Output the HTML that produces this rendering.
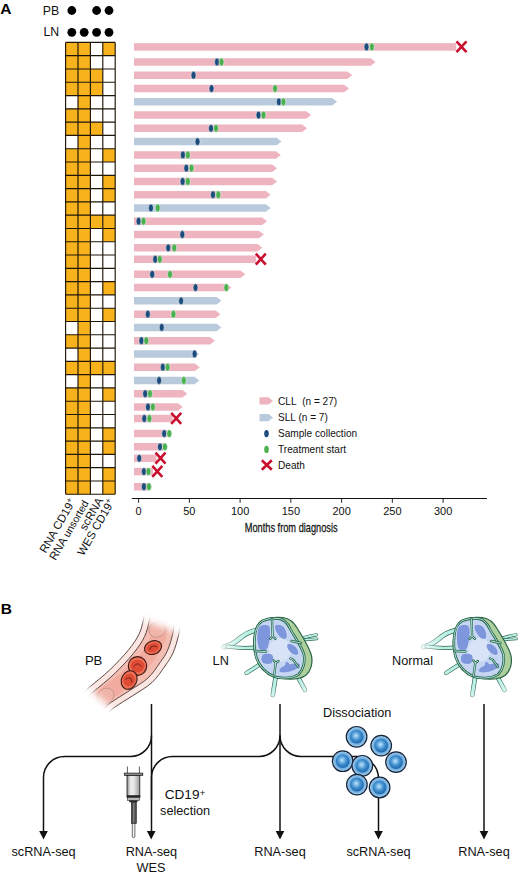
<!DOCTYPE html><html><head><meta charset="utf-8"><style>html,body{margin:0;padding:0;background:#fff;}svg{display:block;}text{font-family:"Liberation Sans",sans-serif;}</style></head><body>
<svg width="520" height="876" viewBox="0 0 520 876">
<defs>
<radialGradient id="cellg" cx="0.45" cy="0.42" r="0.6"><stop offset="0" stop-color="#bfe4fb"/><stop offset="0.55" stop-color="#3f8fd0"/><stop offset="1" stop-color="#1d63a8"/></radialGradient>
<radialGradient id="cello" cx="0.5" cy="0.5" r="0.5"><stop offset="0.6" stop-color="#5da2d8"/><stop offset="1" stop-color="#a7d0f0"/></radialGradient>
<linearGradient id="barrel" x1="0" x2="1" y1="0" y2="0"><stop offset="0" stop-color="#8e8e8e"/><stop offset="0.3" stop-color="#efefef"/><stop offset="0.55" stop-color="#e4e4e4"/><stop offset="1" stop-color="#9a9a9a"/></linearGradient>
<linearGradient id="vfade" gradientUnits="userSpaceOnUse" x1="90" y1="718" x2="168" y2="606"><stop offset="0" stop-color="#fff" stop-opacity="0"/><stop offset="0.17" stop-color="#fff" stop-opacity="1"/><stop offset="0.86" stop-color="#fff" stop-opacity="1"/><stop offset="0.98" stop-color="#fff" stop-opacity="0"/></linearGradient>
<filter id="vblur" x="-0.3" y="-0.3" width="1.6" height="1.6"><feGaussianBlur stdDeviation="3.5"/></filter><mask id="vmask" maskUnits="userSpaceOnUse" x="40" y="570" width="200" height="180"><polygon points="124.1,613.7 197.8,639.8 127,722.5 74.2,674.3" fill="#fff" filter="url(#vblur)"/></mask>
<radialGradient id="vgr" gradientUnits="userSpaceOnUse" cx="280" cy="650" r="58"><stop offset="0.62" stop-color="#fff"/><stop offset="1" stop-color="#3a3a3a"/></radialGradient><mask id="lnvm" maskUnits="userSpaceOnUse" x="200" y="590" width="140" height="120"><rect x="200" y="590" width="140" height="120" fill="url(#vgr)"/></mask>
</defs>
<text x="0.3" y="13.8" font-size="15.5" font-weight="bold" fill="#000">A</text>
<text x="42.8" y="14.6" font-size="12.3" fill="#111">PB</text>
<text x="43.5" y="36.2" font-size="12.3" fill="#111">LN</text>
<circle cx="71.80" cy="10.5" r="4.4" fill="#000"/>
<circle cx="96.60" cy="10.5" r="4.4" fill="#000"/>
<circle cx="109.00" cy="10.5" r="4.4" fill="#000"/>
<circle cx="71.80" cy="32.3" r="4.4" fill="#000"/>
<circle cx="84.20" cy="32.3" r="4.4" fill="#000"/>
<circle cx="96.60" cy="32.3" r="4.4" fill="#000"/>
<circle cx="109.00" cy="32.3" r="4.4" fill="#000"/>
<rect x="65.60" y="42.40" width="12.40" height="13.29" fill="#f8b21c"/>
<rect x="78.00" y="42.40" width="12.40" height="13.29" fill="#f8b21c"/>
<rect x="90.40" y="42.40" width="12.40" height="13.29" fill="#ffffff"/>
<rect x="102.80" y="42.40" width="12.40" height="13.29" fill="#f8b21c"/>
<rect x="65.60" y="55.69" width="12.40" height="13.29" fill="#f8b21c"/>
<rect x="78.00" y="55.69" width="12.40" height="13.29" fill="#f8b21c"/>
<rect x="90.40" y="55.69" width="12.40" height="13.29" fill="#ffffff"/>
<rect x="102.80" y="55.69" width="12.40" height="13.29" fill="#ffffff"/>
<rect x="65.60" y="68.98" width="12.40" height="13.29" fill="#f8b21c"/>
<rect x="78.00" y="68.98" width="12.40" height="13.29" fill="#f8b21c"/>
<rect x="90.40" y="68.98" width="12.40" height="13.29" fill="#f8b21c"/>
<rect x="102.80" y="68.98" width="12.40" height="13.29" fill="#ffffff"/>
<rect x="65.60" y="82.27" width="12.40" height="13.29" fill="#f8b21c"/>
<rect x="78.00" y="82.27" width="12.40" height="13.29" fill="#f8b21c"/>
<rect x="90.40" y="82.27" width="12.40" height="13.29" fill="#f8b21c"/>
<rect x="102.80" y="82.27" width="12.40" height="13.29" fill="#ffffff"/>
<rect x="65.60" y="95.56" width="12.40" height="13.29" fill="#ffffff"/>
<rect x="78.00" y="95.56" width="12.40" height="13.29" fill="#f8b21c"/>
<rect x="90.40" y="95.56" width="12.40" height="13.29" fill="#ffffff"/>
<rect x="102.80" y="95.56" width="12.40" height="13.29" fill="#ffffff"/>
<rect x="65.60" y="108.85" width="12.40" height="13.29" fill="#f8b21c"/>
<rect x="78.00" y="108.85" width="12.40" height="13.29" fill="#f8b21c"/>
<rect x="90.40" y="108.85" width="12.40" height="13.29" fill="#ffffff"/>
<rect x="102.80" y="108.85" width="12.40" height="13.29" fill="#ffffff"/>
<rect x="65.60" y="122.14" width="12.40" height="13.29" fill="#f8b21c"/>
<rect x="78.00" y="122.14" width="12.40" height="13.29" fill="#f8b21c"/>
<rect x="90.40" y="122.14" width="12.40" height="13.29" fill="#f8b21c"/>
<rect x="102.80" y="122.14" width="12.40" height="13.29" fill="#ffffff"/>
<rect x="65.60" y="135.43" width="12.40" height="13.29" fill="#ffffff"/>
<rect x="78.00" y="135.43" width="12.40" height="13.29" fill="#f8b21c"/>
<rect x="90.40" y="135.43" width="12.40" height="13.29" fill="#ffffff"/>
<rect x="102.80" y="135.43" width="12.40" height="13.29" fill="#ffffff"/>
<rect x="65.60" y="148.72" width="12.40" height="13.29" fill="#f8b21c"/>
<rect x="78.00" y="148.72" width="12.40" height="13.29" fill="#f8b21c"/>
<rect x="90.40" y="148.72" width="12.40" height="13.29" fill="#ffffff"/>
<rect x="102.80" y="148.72" width="12.40" height="13.29" fill="#f8b21c"/>
<rect x="65.60" y="162.01" width="12.40" height="13.29" fill="#f8b21c"/>
<rect x="78.00" y="162.01" width="12.40" height="13.29" fill="#f8b21c"/>
<rect x="90.40" y="162.01" width="12.40" height="13.29" fill="#ffffff"/>
<rect x="102.80" y="162.01" width="12.40" height="13.29" fill="#ffffff"/>
<rect x="65.60" y="175.30" width="12.40" height="13.29" fill="#f8b21c"/>
<rect x="78.00" y="175.30" width="12.40" height="13.29" fill="#f8b21c"/>
<rect x="90.40" y="175.30" width="12.40" height="13.29" fill="#ffffff"/>
<rect x="102.80" y="175.30" width="12.40" height="13.29" fill="#f8b21c"/>
<rect x="65.60" y="188.59" width="12.40" height="13.29" fill="#f8b21c"/>
<rect x="78.00" y="188.59" width="12.40" height="13.29" fill="#f8b21c"/>
<rect x="90.40" y="188.59" width="12.40" height="13.29" fill="#ffffff"/>
<rect x="102.80" y="188.59" width="12.40" height="13.29" fill="#f8b21c"/>
<rect x="65.60" y="201.88" width="12.40" height="13.29" fill="#f8b21c"/>
<rect x="78.00" y="201.88" width="12.40" height="13.29" fill="#f8b21c"/>
<rect x="90.40" y="201.88" width="12.40" height="13.29" fill="#ffffff"/>
<rect x="102.80" y="201.88" width="12.40" height="13.29" fill="#ffffff"/>
<rect x="65.60" y="215.17" width="12.40" height="13.29" fill="#f8b21c"/>
<rect x="78.00" y="215.17" width="12.40" height="13.29" fill="#f8b21c"/>
<rect x="90.40" y="215.17" width="12.40" height="13.29" fill="#f8b21c"/>
<rect x="102.80" y="215.17" width="12.40" height="13.29" fill="#f8b21c"/>
<rect x="65.60" y="228.46" width="12.40" height="13.29" fill="#f8b21c"/>
<rect x="78.00" y="228.46" width="12.40" height="13.29" fill="#f8b21c"/>
<rect x="90.40" y="228.46" width="12.40" height="13.29" fill="#ffffff"/>
<rect x="102.80" y="228.46" width="12.40" height="13.29" fill="#f8b21c"/>
<rect x="65.60" y="241.75" width="12.40" height="13.29" fill="#f8b21c"/>
<rect x="78.00" y="241.75" width="12.40" height="13.29" fill="#f8b21c"/>
<rect x="90.40" y="241.75" width="12.40" height="13.29" fill="#ffffff"/>
<rect x="102.80" y="241.75" width="12.40" height="13.29" fill="#ffffff"/>
<rect x="65.60" y="255.04" width="12.40" height="13.29" fill="#f8b21c"/>
<rect x="78.00" y="255.04" width="12.40" height="13.29" fill="#f8b21c"/>
<rect x="90.40" y="255.04" width="12.40" height="13.29" fill="#ffffff"/>
<rect x="102.80" y="255.04" width="12.40" height="13.29" fill="#ffffff"/>
<rect x="65.60" y="268.33" width="12.40" height="13.29" fill="#f8b21c"/>
<rect x="78.00" y="268.33" width="12.40" height="13.29" fill="#f8b21c"/>
<rect x="90.40" y="268.33" width="12.40" height="13.29" fill="#ffffff"/>
<rect x="102.80" y="268.33" width="12.40" height="13.29" fill="#ffffff"/>
<rect x="65.60" y="281.62" width="12.40" height="13.29" fill="#f8b21c"/>
<rect x="78.00" y="281.62" width="12.40" height="13.29" fill="#f8b21c"/>
<rect x="90.40" y="281.62" width="12.40" height="13.29" fill="#ffffff"/>
<rect x="102.80" y="281.62" width="12.40" height="13.29" fill="#f8b21c"/>
<rect x="65.60" y="294.91" width="12.40" height="13.29" fill="#f8b21c"/>
<rect x="78.00" y="294.91" width="12.40" height="13.29" fill="#f8b21c"/>
<rect x="90.40" y="294.91" width="12.40" height="13.29" fill="#ffffff"/>
<rect x="102.80" y="294.91" width="12.40" height="13.29" fill="#ffffff"/>
<rect x="65.60" y="308.20" width="12.40" height="13.29" fill="#f8b21c"/>
<rect x="78.00" y="308.20" width="12.40" height="13.29" fill="#f8b21c"/>
<rect x="90.40" y="308.20" width="12.40" height="13.29" fill="#ffffff"/>
<rect x="102.80" y="308.20" width="12.40" height="13.29" fill="#f8b21c"/>
<rect x="65.60" y="321.49" width="12.40" height="13.29" fill="#ffffff"/>
<rect x="78.00" y="321.49" width="12.40" height="13.29" fill="#f8b21c"/>
<rect x="90.40" y="321.49" width="12.40" height="13.29" fill="#ffffff"/>
<rect x="102.80" y="321.49" width="12.40" height="13.29" fill="#ffffff"/>
<rect x="65.60" y="334.78" width="12.40" height="13.29" fill="#f8b21c"/>
<rect x="78.00" y="334.78" width="12.40" height="13.29" fill="#f8b21c"/>
<rect x="90.40" y="334.78" width="12.40" height="13.29" fill="#ffffff"/>
<rect x="102.80" y="334.78" width="12.40" height="13.29" fill="#ffffff"/>
<rect x="65.60" y="348.07" width="12.40" height="13.29" fill="#ffffff"/>
<rect x="78.00" y="348.07" width="12.40" height="13.29" fill="#f8b21c"/>
<rect x="90.40" y="348.07" width="12.40" height="13.29" fill="#ffffff"/>
<rect x="102.80" y="348.07" width="12.40" height="13.29" fill="#ffffff"/>
<rect x="65.60" y="361.36" width="12.40" height="13.29" fill="#f8b21c"/>
<rect x="78.00" y="361.36" width="12.40" height="13.29" fill="#f8b21c"/>
<rect x="90.40" y="361.36" width="12.40" height="13.29" fill="#f8b21c"/>
<rect x="102.80" y="361.36" width="12.40" height="13.29" fill="#f8b21c"/>
<rect x="65.60" y="374.65" width="12.40" height="13.29" fill="#ffffff"/>
<rect x="78.00" y="374.65" width="12.40" height="13.29" fill="#f8b21c"/>
<rect x="90.40" y="374.65" width="12.40" height="13.29" fill="#ffffff"/>
<rect x="102.80" y="374.65" width="12.40" height="13.29" fill="#ffffff"/>
<rect x="65.60" y="387.94" width="12.40" height="13.29" fill="#f8b21c"/>
<rect x="78.00" y="387.94" width="12.40" height="13.29" fill="#f8b21c"/>
<rect x="90.40" y="387.94" width="12.40" height="13.29" fill="#ffffff"/>
<rect x="102.80" y="387.94" width="12.40" height="13.29" fill="#f8b21c"/>
<rect x="65.60" y="401.23" width="12.40" height="13.29" fill="#f8b21c"/>
<rect x="78.00" y="401.23" width="12.40" height="13.29" fill="#f8b21c"/>
<rect x="90.40" y="401.23" width="12.40" height="13.29" fill="#ffffff"/>
<rect x="102.80" y="401.23" width="12.40" height="13.29" fill="#ffffff"/>
<rect x="65.60" y="414.52" width="12.40" height="13.29" fill="#f8b21c"/>
<rect x="78.00" y="414.52" width="12.40" height="13.29" fill="#f8b21c"/>
<rect x="90.40" y="414.52" width="12.40" height="13.29" fill="#ffffff"/>
<rect x="102.80" y="414.52" width="12.40" height="13.29" fill="#ffffff"/>
<rect x="65.60" y="427.81" width="12.40" height="13.29" fill="#f8b21c"/>
<rect x="78.00" y="427.81" width="12.40" height="13.29" fill="#f8b21c"/>
<rect x="90.40" y="427.81" width="12.40" height="13.29" fill="#ffffff"/>
<rect x="102.80" y="427.81" width="12.40" height="13.29" fill="#f8b21c"/>
<rect x="65.60" y="441.10" width="12.40" height="13.29" fill="#f8b21c"/>
<rect x="78.00" y="441.10" width="12.40" height="13.29" fill="#f8b21c"/>
<rect x="90.40" y="441.10" width="12.40" height="13.29" fill="#ffffff"/>
<rect x="102.80" y="441.10" width="12.40" height="13.29" fill="#f8b21c"/>
<rect x="65.60" y="454.39" width="12.40" height="13.29" fill="#f8b21c"/>
<rect x="78.00" y="454.39" width="12.40" height="13.29" fill="#f8b21c"/>
<rect x="90.40" y="454.39" width="12.40" height="13.29" fill="#ffffff"/>
<rect x="102.80" y="454.39" width="12.40" height="13.29" fill="#ffffff"/>
<rect x="65.60" y="467.68" width="12.40" height="13.29" fill="#f8b21c"/>
<rect x="78.00" y="467.68" width="12.40" height="13.29" fill="#f8b21c"/>
<rect x="90.40" y="467.68" width="12.40" height="13.29" fill="#ffffff"/>
<rect x="102.80" y="467.68" width="12.40" height="13.29" fill="#f8b21c"/>
<rect x="65.60" y="480.97" width="12.40" height="13.29" fill="#f8b21c"/>
<rect x="78.00" y="480.97" width="12.40" height="13.29" fill="#f8b21c"/>
<rect x="90.40" y="480.97" width="12.40" height="13.29" fill="#ffffff"/>
<rect x="102.80" y="480.97" width="12.40" height="13.29" fill="#f8b21c"/>
<path d="M65.60 42.40V494.26M78.00 42.40V494.26M90.40 42.40V494.26M102.80 42.40V494.26M115.20 42.40V494.26M65.60 42.40H115.20M65.60 55.69H115.20M65.60 68.98H115.20M65.60 82.27H115.20M65.60 95.56H115.20M65.60 108.85H115.20M65.60 122.14H115.20M65.60 135.43H115.20M65.60 148.72H115.20M65.60 162.01H115.20M65.60 175.30H115.20M65.60 188.59H115.20M65.60 201.88H115.20M65.60 215.17H115.20M65.60 228.46H115.20M65.60 241.75H115.20M65.60 255.04H115.20M65.60 268.33H115.20M65.60 281.62H115.20M65.60 294.91H115.20M65.60 308.20H115.20M65.60 321.49H115.20M65.60 334.78H115.20M65.60 348.07H115.20M65.60 361.36H115.20M65.60 374.65H115.20M65.60 387.94H115.20M65.60 401.23H115.20M65.60 414.52H115.20M65.60 427.81H115.20M65.60 441.10H115.20M65.60 454.39H115.20M65.60 467.68H115.20M65.60 480.97H115.20M65.60 494.26H115.20" stroke="#1e1608" stroke-width="1.15" fill="none"/>
<text transform="translate(76,501.5) rotate(-60)" text-anchor="end" font-size="11.4" fill="#111">RNA CD19<tspan font-size="8" dy="-4">+</tspan></text>
<text transform="translate(89,503) rotate(-60)" text-anchor="end" font-size="11.4" fill="#111">RNA <tspan font-size="10.4">unsorted</tspan></text>
<text transform="translate(103.5,500.5) rotate(-60)" text-anchor="end" font-size="11.4" fill="#111">scRNA</text>
<text transform="translate(115,502) rotate(-60)" text-anchor="end" font-size="11.4" fill="#111">WES CD19<tspan font-size="8" dy="-4">+</tspan></text>
<rect x="134.0" y="43.18" width="322.20" height="7.5" fill="#eeb4c0"/>
<ellipse cx="366.5" cy="46.93" rx="2.5" ry="3.9" fill="#1c4b7c" stroke="#fff" stroke-width="0.5"/>
<ellipse cx="371.9" cy="46.93" rx="2.5" ry="3.9" fill="#4cb050" stroke="#fff" stroke-width="0.5"/>
<path d="M456.50 41.33L466.50 52.23M466.50 41.33L456.50 52.23" stroke="#c8102e" stroke-width="2.6" fill="none"/>
<path d="M134.0 58.25H370.70L375.50 62.00L370.70 65.75H134.0Z" fill="#eeb4c0"/>
<ellipse cx="217" cy="62.00" rx="2.5" ry="3.9" fill="#1c4b7c" stroke="#fff" stroke-width="0.5"/>
<ellipse cx="221.5" cy="62.00" rx="2.5" ry="3.9" fill="#4cb050" stroke="#fff" stroke-width="0.5"/>
<path d="M134.0 71.52H347.40L352.20 75.27L347.40 79.02H134.0Z" fill="#eeb4c0"/>
<ellipse cx="193.5" cy="75.27" rx="2.5" ry="3.9" fill="#1c4b7c" stroke="#fff" stroke-width="0.5"/>
<path d="M134.0 84.79H344.20L349.00 88.54L344.20 92.29H134.0Z" fill="#eeb4c0"/>
<ellipse cx="211.5" cy="88.54" rx="2.5" ry="3.9" fill="#1c4b7c" stroke="#fff" stroke-width="0.5"/>
<ellipse cx="275.1" cy="88.54" rx="2.5" ry="3.9" fill="#4cb050" stroke="#fff" stroke-width="0.5"/>
<path d="M134.0 98.06H332.20L337.00 101.81L332.20 105.56H134.0Z" fill="#b9cadc"/>
<ellipse cx="278.9" cy="101.81" rx="2.5" ry="3.9" fill="#1c4b7c" stroke="#fff" stroke-width="0.5"/>
<ellipse cx="283.4" cy="101.81" rx="2.5" ry="3.9" fill="#4cb050" stroke="#fff" stroke-width="0.5"/>
<path d="M134.0 111.33H306.30L311.10 115.08L306.30 118.83H134.0Z" fill="#eeb4c0"/>
<ellipse cx="258.5" cy="115.08" rx="2.5" ry="3.9" fill="#1c4b7c" stroke="#fff" stroke-width="0.5"/>
<ellipse cx="263.5" cy="115.08" rx="2.5" ry="3.9" fill="#4cb050" stroke="#fff" stroke-width="0.5"/>
<path d="M134.0 124.60H302.20L307.00 128.35L302.20 132.10H134.0Z" fill="#eeb4c0"/>
<ellipse cx="211" cy="128.35" rx="2.5" ry="3.9" fill="#1c4b7c" stroke="#fff" stroke-width="0.5"/>
<ellipse cx="216" cy="128.35" rx="2.5" ry="3.9" fill="#4cb050" stroke="#fff" stroke-width="0.5"/>
<path d="M134.0 137.87H276.70L281.50 141.62L276.70 145.37H134.0Z" fill="#b9cadc"/>
<ellipse cx="197.5" cy="141.62" rx="2.5" ry="3.9" fill="#1c4b7c" stroke="#fff" stroke-width="0.5"/>
<path d="M134.0 151.14H276.00L280.80 154.89L276.00 158.64H134.0Z" fill="#eeb4c0"/>
<ellipse cx="182.9" cy="154.89" rx="2.5" ry="3.9" fill="#1c4b7c" stroke="#fff" stroke-width="0.5"/>
<ellipse cx="187.8" cy="154.89" rx="2.5" ry="3.9" fill="#4cb050" stroke="#fff" stroke-width="0.5"/>
<path d="M134.0 164.41H272.20L277.00 168.16L272.20 171.91H134.0Z" fill="#eeb4c0"/>
<ellipse cx="186.3" cy="168.16" rx="2.5" ry="3.9" fill="#1c4b7c" stroke="#fff" stroke-width="0.5"/>
<ellipse cx="191.5" cy="168.16" rx="2.5" ry="3.9" fill="#4cb050" stroke="#fff" stroke-width="0.5"/>
<path d="M134.0 177.68H272.20L277.00 181.43L272.20 185.18H134.0Z" fill="#eeb4c0"/>
<ellipse cx="182.6" cy="181.43" rx="2.5" ry="3.9" fill="#1c4b7c" stroke="#fff" stroke-width="0.5"/>
<ellipse cx="187.8" cy="181.43" rx="2.5" ry="3.9" fill="#4cb050" stroke="#fff" stroke-width="0.5"/>
<path d="M134.0 190.95H265.80L270.60 194.70L265.80 198.45H134.0Z" fill="#eeb4c0"/>
<ellipse cx="213" cy="194.70" rx="2.5" ry="3.9" fill="#1c4b7c" stroke="#fff" stroke-width="0.5"/>
<ellipse cx="218.3" cy="194.70" rx="2.5" ry="3.9" fill="#4cb050" stroke="#fff" stroke-width="0.5"/>
<path d="M134.0 204.22H265.80L270.60 207.97L265.80 211.72H134.0Z" fill="#b9cadc"/>
<ellipse cx="150.9" cy="207.97" rx="2.5" ry="3.9" fill="#1c4b7c" stroke="#fff" stroke-width="0.5"/>
<ellipse cx="157.7" cy="207.97" rx="2.5" ry="3.9" fill="#4cb050" stroke="#fff" stroke-width="0.5"/>
<path d="M134.0 217.49H262.20L267.00 221.24L262.20 224.99H134.0Z" fill="#eeb4c0"/>
<ellipse cx="138.6" cy="221.24" rx="2.5" ry="3.9" fill="#1c4b7c" stroke="#fff" stroke-width="0.5"/>
<ellipse cx="143.5" cy="221.24" rx="2.5" ry="3.9" fill="#4cb050" stroke="#fff" stroke-width="0.5"/>
<path d="M134.0 230.76H259.00L263.80 234.51L259.00 238.26H134.0Z" fill="#eeb4c0"/>
<ellipse cx="182.3" cy="234.51" rx="2.5" ry="3.9" fill="#1c4b7c" stroke="#fff" stroke-width="0.5"/>
<path d="M134.0 244.03H257.50L262.30 247.78L257.50 251.53H134.0Z" fill="#eeb4c0"/>
<ellipse cx="168.2" cy="247.78" rx="2.5" ry="3.9" fill="#1c4b7c" stroke="#fff" stroke-width="0.5"/>
<ellipse cx="174.3" cy="247.78" rx="2.5" ry="3.9" fill="#4cb050" stroke="#fff" stroke-width="0.5"/>
<rect x="134.0" y="255.50" width="122.20" height="7.5" fill="#eeb4c0"/>
<ellipse cx="155.2" cy="259.25" rx="2.5" ry="3.9" fill="#1c4b7c" stroke="#fff" stroke-width="0.5"/>
<ellipse cx="159.8" cy="259.25" rx="2.5" ry="3.9" fill="#4cb050" stroke="#fff" stroke-width="0.5"/>
<path d="M255.80 253.65L265.80 264.55M265.80 253.65L255.80 264.55" stroke="#c8102e" stroke-width="2.6" fill="none"/>
<path d="M134.0 270.57H240.40L245.20 274.32L240.40 278.07H134.0Z" fill="#eeb4c0"/>
<ellipse cx="152.2" cy="274.32" rx="2.5" ry="3.9" fill="#1c4b7c" stroke="#fff" stroke-width="0.5"/>
<ellipse cx="170" cy="274.32" rx="2.5" ry="3.9" fill="#4cb050" stroke="#fff" stroke-width="0.5"/>
<path d="M134.0 283.84H226.70L231.50 287.59L226.70 291.34H134.0Z" fill="#eeb4c0"/>
<ellipse cx="195.5" cy="287.59" rx="2.5" ry="3.9" fill="#1c4b7c" stroke="#fff" stroke-width="0.5"/>
<ellipse cx="226.3" cy="287.59" rx="2.5" ry="3.9" fill="#4cb050" stroke="#fff" stroke-width="0.5"/>
<path d="M134.0 297.11H216.60L221.40 300.86L216.60 304.61H134.0Z" fill="#b9cadc"/>
<ellipse cx="181.1" cy="300.86" rx="2.5" ry="3.9" fill="#1c4b7c" stroke="#fff" stroke-width="0.5"/>
<path d="M134.0 310.38H215.70L220.50 314.13L215.70 317.88H134.0Z" fill="#eeb4c0"/>
<ellipse cx="147.8" cy="314.13" rx="2.5" ry="3.9" fill="#1c4b7c" stroke="#fff" stroke-width="0.5"/>
<ellipse cx="173.4" cy="314.13" rx="2.5" ry="3.9" fill="#4cb050" stroke="#fff" stroke-width="0.5"/>
<path d="M134.0 323.65H216.60L221.40 327.40L216.60 331.15H134.0Z" fill="#b9cadc"/>
<ellipse cx="161.7" cy="327.40" rx="2.5" ry="3.9" fill="#1c4b7c" stroke="#fff" stroke-width="0.5"/>
<path d="M134.0 336.92H210.10L214.90 340.67L210.10 344.42H134.0Z" fill="#eeb4c0"/>
<ellipse cx="141.4" cy="340.67" rx="2.5" ry="3.9" fill="#1c4b7c" stroke="#fff" stroke-width="0.5"/>
<ellipse cx="146.3" cy="340.67" rx="2.5" ry="3.9" fill="#4cb050" stroke="#fff" stroke-width="0.5"/>
<path d="M134.0 350.19H194.40L199.20 353.94L194.40 357.69H134.0Z" fill="#b9cadc"/>
<ellipse cx="194.6" cy="353.94" rx="2.5" ry="3.9" fill="#1c4b7c" stroke="#fff" stroke-width="0.5"/>
<path d="M134.0 363.46H194.90L199.70 367.21L194.90 370.96H134.0Z" fill="#eeb4c0"/>
<ellipse cx="162.8" cy="367.21" rx="2.5" ry="3.9" fill="#1c4b7c" stroke="#fff" stroke-width="0.5"/>
<ellipse cx="167.6" cy="367.21" rx="2.5" ry="3.9" fill="#4cb050" stroke="#fff" stroke-width="0.5"/>
<path d="M134.0 376.73H194.50L199.30 380.48L194.50 384.23H134.0Z" fill="#b9cadc"/>
<ellipse cx="159.1" cy="380.48" rx="2.5" ry="3.9" fill="#1c4b7c" stroke="#fff" stroke-width="0.5"/>
<ellipse cx="183.8" cy="380.48" rx="2.5" ry="3.9" fill="#4cb050" stroke="#fff" stroke-width="0.5"/>
<path d="M134.0 390.00H182.50L187.30 393.75L182.50 397.50H134.0Z" fill="#eeb4c0"/>
<ellipse cx="145.2" cy="393.75" rx="2.5" ry="3.9" fill="#1c4b7c" stroke="#fff" stroke-width="0.5"/>
<ellipse cx="150" cy="393.75" rx="2.5" ry="3.9" fill="#4cb050" stroke="#fff" stroke-width="0.5"/>
<path d="M134.0 403.27H177.90L182.70 407.02L177.90 410.77H134.0Z" fill="#eeb4c0"/>
<ellipse cx="148" cy="407.02" rx="2.5" ry="3.9" fill="#1c4b7c" stroke="#fff" stroke-width="0.5"/>
<ellipse cx="152.9" cy="407.02" rx="2.5" ry="3.9" fill="#4cb050" stroke="#fff" stroke-width="0.5"/>
<rect x="134.0" y="414.74" width="38.70" height="7.5" fill="#eeb4c0"/>
<ellipse cx="144.3" cy="418.49" rx="2.5" ry="3.9" fill="#1c4b7c" stroke="#fff" stroke-width="0.5"/>
<ellipse cx="149.4" cy="418.49" rx="2.5" ry="3.9" fill="#4cb050" stroke="#fff" stroke-width="0.5"/>
<path d="M171.20 412.89L181.20 423.79M181.20 412.89L171.20 423.79" stroke="#c8102e" stroke-width="2.6" fill="none"/>
<path d="M134.0 429.81H166.80L171.60 433.56L166.80 437.31H134.0Z" fill="#eeb4c0"/>
<ellipse cx="164.2" cy="433.56" rx="2.5" ry="3.9" fill="#1c4b7c" stroke="#fff" stroke-width="0.5"/>
<ellipse cx="169.3" cy="433.56" rx="2.5" ry="3.9" fill="#4cb050" stroke="#fff" stroke-width="0.5"/>
<path d="M134.0 443.08H163.20L168.00 446.83L163.20 450.58H134.0Z" fill="#eeb4c0"/>
<ellipse cx="160" cy="446.83" rx="2.5" ry="3.9" fill="#1c4b7c" stroke="#fff" stroke-width="0.5"/>
<ellipse cx="164.9" cy="446.83" rx="2.5" ry="3.9" fill="#4cb050" stroke="#fff" stroke-width="0.5"/>
<rect x="134.0" y="454.55" width="22.60" height="7.5" fill="#eeb4c0"/>
<ellipse cx="139.2" cy="458.30" rx="2.5" ry="3.9" fill="#1c4b7c" stroke="#fff" stroke-width="0.5"/>
<path d="M155.50 452.70L165.50 463.60M165.50 452.70L155.50 463.60" stroke="#c8102e" stroke-width="2.6" fill="none"/>
<rect x="134.0" y="467.82" width="19.00" height="7.5" fill="#eeb4c0"/>
<ellipse cx="143.9" cy="471.57" rx="2.5" ry="3.9" fill="#1c4b7c" stroke="#fff" stroke-width="0.5"/>
<ellipse cx="148.5" cy="471.57" rx="2.5" ry="3.9" fill="#4cb050" stroke="#fff" stroke-width="0.5"/>
<path d="M152.30 465.97L162.30 476.87M162.30 465.97L152.30 476.87" stroke="#c8102e" stroke-width="2.6" fill="none"/>
<path d="M134.0 482.89H147.20L152.00 486.64L147.20 490.39H134.0Z" fill="#eeb4c0"/>
<ellipse cx="143.9" cy="486.64" rx="2.5" ry="3.9" fill="#1c4b7c" stroke="#fff" stroke-width="0.5"/>
<ellipse cx="148.9" cy="486.64" rx="2.5" ry="3.9" fill="#4cb050" stroke="#fff" stroke-width="0.5"/>
<path d="M131.8 498.5H487" stroke="#111" stroke-width="1.1" fill="none"/>
<text x="138.60" y="514.7" font-size="11" text-anchor="middle" fill="#111">0</text>
<text x="189.35" y="514.7" font-size="11" text-anchor="middle" fill="#111">50</text>
<text x="240.10" y="514.7" font-size="11" text-anchor="middle" fill="#111">100</text>
<text x="290.85" y="514.7" font-size="11" text-anchor="middle" fill="#111">150</text>
<text x="341.60" y="514.7" font-size="11" text-anchor="middle" fill="#111">200</text>
<text x="392.35" y="514.7" font-size="11" text-anchor="middle" fill="#111">250</text>
<text x="443.10" y="514.7" font-size="11" text-anchor="middle" fill="#111">300</text>
<path d="M138.60 498.5V502.8M189.35 498.5V502.8M240.10 498.5V502.8M290.85 498.5V502.8M341.60 498.5V502.8M392.35 498.5V502.8M443.10 498.5V502.8" stroke="#111" stroke-width="0.9" fill="none"/>
<text x="291.2" y="532.5" font-size="13.4" text-anchor="middle" fill="#111" stroke="#111" stroke-width="0.25" transform="translate(291.2,0) scale(0.69,1) translate(-291.2,0)">Months from diagnosis</text>
<path d="M259.5 397.2H268.5L273 400.9L268.5 404.6H259.5Z" fill="#eeb4c0"/>
<path d="M259.5 413.9H268.5L273 417.6L268.5 421.3H259.5Z" fill="#b9cadc"/>
<ellipse cx="266.5" cy="433.6" rx="2.3" ry="3.6" fill="#1c4b7c"/>
<ellipse cx="266.5" cy="449.4" rx="2.3" ry="3.6" fill="#4cb050"/>
<path d="M261.8 460.2L271.8 469.8M271.8 460.2L261.8 469.8" stroke="#c8102e" stroke-width="2.6"/>
<text x="278" y="404.6" font-size="10.1" fill="#111">CLL&#160;&#160;(n = 27)</text>
<text x="278" y="421.2" font-size="10.1" fill="#111">SLL (n = 7)</text>
<text x="278" y="437.4" font-size="10.1" fill="#111">Sample collection</text>
<text x="278" y="453.2" font-size="10.1" fill="#111">Treatment start</text>
<text x="278" y="469.4" font-size="10.1" fill="#111">Death</text>
<text x="0.8" y="613.8" font-size="15.5" font-weight="bold" fill="#000">B</text>
<text x="84.9" y="665" font-size="13.1" fill="#111">PB</text>
<text x="212.6" y="665.4" font-size="12.7" fill="#111">LN</text>
<text x="392.1" y="664.6" font-size="12.7" fill="#111">Normal</text>
<text x="357.2" y="717.2" font-size="12.7" fill="#111" text-anchor="middle">Dissociation</text>
<text x="164.7" y="799" font-size="13.6" fill="#111">CD19</text><text x="202.5" y="795.8" font-size="9.6" fill="#111" text-anchor="middle">+</text>
<text x="185.1" y="815.4" font-size="12.7" fill="#111" text-anchor="middle">selection</text>
<text x="43.6" y="856.4" font-size="12.7" fill="#111" text-anchor="middle">scRNA-seq</text>
<text x="151.4" y="856.4" font-size="12.7" fill="#111" text-anchor="middle">RNA-seq</text>
<text x="280" y="856.4" font-size="12.7" fill="#111" text-anchor="middle">RNA-seq</text>
<text x="378.5" y="856.4" font-size="12.7" fill="#111" text-anchor="middle">scRNA-seq</text>
<text x="484" y="856.4" font-size="12.7" fill="#111" text-anchor="middle">RNA-seq</text>
<text x="151" y="872.2" font-size="12.7" fill="#111" text-anchor="middle">WES</text>
<path d="M151.5 704V832" stroke="#111" stroke-width="1.5" fill="none"/>
<path d="M151.5 735.5A21 21 0 0 1 130.5 756.5H64.5A21 21 0 0 0 43.5 777.5V832" stroke="#111" stroke-width="1.5" fill="none"/>
<path d="M280 704V832" stroke="#111" stroke-width="1.5" fill="none"/>
<path d="M280 735.5A21 21 0 0 1 259 756.5H172.5A21 21 0 0 0 151.5 777.5V800" stroke="#111" stroke-width="1.5" fill="none"/>
<path d="M280 735.5A21 21 0 0 0 301 756.5H356A22 22 0 0 1 378.5 778.5V832" stroke="#111" stroke-width="1.5" fill="none"/>
<path d="M484 704V832" stroke="#111" stroke-width="1.5" fill="none"/>
<path d="M39.2 831L47.8 831L43.5 839.5Z" fill="#111"/>
<path d="M146.9 831L155.5 831L151.2 839.5Z" fill="#111"/>
<path d="M275.7 831L284.3 831L280 839.5Z" fill="#111"/>
<path d="M374.2 831L382.8 831L378.5 839.5Z" fill="#111"/>
<path d="M479.7 831L488.3 831L484 839.5Z" fill="#111"/>
<g mask="url(#vmask)">
<path d="M78.00 697.00C80.08 695.22 85.22 690.80 90.50 686.30C95.78 681.80 103.33 676.10 109.70 670.00C116.07 663.90 123.78 655.73 128.70 649.70C133.62 643.67 136.73 638.92 139.20 633.80C141.67 628.68 142.53 623.30 143.50 619.00C144.47 614.70 144.75 609.83 145.00 608.00L180.00 624.00C179.73 626.00 179.57 631.18 178.40 636.00C177.23 640.82 175.23 647.90 173.00 652.90C170.77 657.90 168.50 661.07 165.00 666.00C161.50 670.93 157.33 677.58 152.00 682.50C146.67 687.42 139.37 691.27 133.00 695.50C126.63 699.73 119.30 703.82 113.80 707.90C108.30 711.98 102.30 717.98 100.00 720.00Z" fill="#fbe6e2"/>
<path d="M81.90 701.56C83.98 699.78 89.07 695.41 94.39 690.87C99.72 686.33 107.36 680.56 113.85 674.33C120.34 668.10 128.23 659.81 133.35 653.49C138.48 647.17 141.94 641.93 144.60 636.41C147.27 630.88 148.30 624.92 149.35 620.32C150.41 615.72 150.68 610.73 150.94 608.81L174.05 623.21C173.81 625.10 173.66 630.05 172.57 634.59C171.48 639.13 169.60 645.80 167.52 650.45C165.44 655.11 163.37 657.92 160.11 662.53C156.84 667.13 153.00 673.43 147.93 678.09C142.86 682.75 135.96 686.34 129.68 690.50C123.39 694.67 115.83 698.92 110.22 703.08C104.62 707.25 98.41 713.42 96.04 715.49Z" fill="#f4bdb2"/>
<path d="M102.15 697.10C105.93 694.17 117.40 686.04 124.85 679.50C132.30 672.96 141.39 664.53 146.85 657.85C152.31 651.17 155.17 644.82 157.60 639.40C160.03 633.98 160.81 627.69 161.45 625.35" stroke="#ed9c8c" stroke-width="15" fill="none" opacity="0.5" stroke-linecap="round"/>
<path d="M78.00 697.00C80.08 695.22 85.22 690.80 90.50 686.30C95.78 681.80 103.33 676.10 109.70 670.00C116.07 663.90 123.78 655.73 128.70 649.70C133.62 643.67 136.73 638.92 139.20 633.80C141.67 628.68 142.53 623.30 143.50 619.00C144.47 614.70 144.75 609.83 145.00 608.00" stroke="#4a3636" stroke-width="0.9" fill="none"/>
<path d="M100.00 720.00C102.30 717.98 108.30 711.98 113.80 707.90C119.30 703.82 126.63 699.73 133.00 695.50C139.37 691.27 146.67 687.42 152.00 682.50C157.33 677.58 161.50 670.93 165.00 666.00C168.50 661.07 170.77 657.90 173.00 652.90C175.23 647.90 177.23 640.82 178.40 636.00C179.57 631.18 179.73 626.00 180.00 624.00" stroke="#4a3636" stroke-width="0.9" fill="none"/>
<path d="M81.90 701.56C83.98 699.78 89.07 695.41 94.39 690.87C99.72 686.33 107.36 680.56 113.85 674.33C120.34 668.10 128.23 659.81 133.35 653.49C138.48 647.17 141.94 641.93 144.60 636.41C147.27 630.88 148.30 624.92 149.35 620.32C150.41 615.72 150.68 610.73 150.94 608.81" stroke="#4a3636" stroke-width="0.9" fill="none"/>
<path d="M96.04 715.49C98.41 713.42 104.62 707.25 110.22 703.08C115.83 698.92 123.39 694.67 129.68 690.50C135.96 686.34 142.86 682.75 147.93 678.09C153.00 673.43 156.84 667.13 160.11 662.53C163.37 657.92 165.44 655.11 167.52 650.45C169.60 645.80 171.48 639.13 172.57 634.59C173.66 630.05 173.81 625.10 174.05 623.21" stroke="#4a3636" stroke-width="0.9" fill="none"/>
<ellipse cx="157.2" cy="629.6" rx="8.5" ry="7.5" transform="rotate(-30 157.2 629.6)" fill="#f0b3a8" stroke="#b08a84" stroke-width="0.6"/>
<ellipse cx="105.4" cy="696.3" rx="9" ry="7.5" transform="rotate(-40 105.4 696.3)" fill="#f0b3a8" stroke="#b08a84" stroke-width="0.6"/>
</g>
<g transform="translate(153 647.6) rotate(-22)"><ellipse rx="8.8" ry="6.6" fill="#ec6e56" stroke="#3e1a12" stroke-width="1.1"/><ellipse rx="6.51" ry="4.36" fill="#de4a34"/><path d="M-3.96 0.8Q0 -3.63 3.96 0.8" stroke="#7a2a1e" stroke-width="1" fill="none"/></g>
<g transform="translate(137.5 666) rotate(0)"><ellipse rx="9.2" ry="9.4" fill="#ec6e56" stroke="#3e1a12" stroke-width="1.1"/><ellipse rx="6.81" ry="6.20" fill="#de4a34"/><path d="M-4.14 0.8Q0 -5.17 4.14 0.8" stroke="#7a2a1e" stroke-width="1" fill="none"/></g>
<g transform="translate(129.1 680) rotate(25)"><ellipse rx="7.6" ry="9.6" fill="#ec6e56" stroke="#3e1a12" stroke-width="1.1"/><ellipse rx="5.62" ry="6.34" fill="#de4a34"/><path d="M-3.42 0.8Q0 -5.28 3.42 0.8" stroke="#7a2a1e" stroke-width="1" fill="none"/></g>
<g><g mask="url(#lnvm)"><path d="M257 630Q247 632 239 639Q232 645 224 647" stroke="#2a6449" stroke-width="5.0" fill="none" stroke-linecap="round" stroke-linejoin="round"/><path d="M257 630Q247 632 239 639Q232 645 224 647" stroke="#b9efe6" stroke-width="3.7" fill="none" stroke-linecap="round" stroke-linejoin="round"/><path d="M255 647.5Q245 648.5 236 647.5L227 646.5" stroke="#2a6449" stroke-width="3.8" fill="none" stroke-linecap="round" stroke-linejoin="round"/><path d="M255 647.5Q245 648.5 236 647.5L227 646.5" stroke="#b9efe6" stroke-width="2.5" fill="none" stroke-linecap="round" stroke-linejoin="round"/><path d="M259 665L246.5 673" stroke="#2a6449" stroke-width="4.2" fill="none" stroke-linecap="round" stroke-linejoin="round"/><path d="M259 665L246.5 673" stroke="#b9efe6" stroke-width="2.9" fill="none" stroke-linecap="round" stroke-linejoin="round"/><path d="M292 642Q303 637 316.5 634.8" stroke="#2a6449" stroke-width="3.2" fill="none" stroke-linecap="round" stroke-linejoin="round"/><path d="M292 642Q303 637 316.5 634.8" stroke="#b9efe6" stroke-width="1.9" fill="none" stroke-linecap="round" stroke-linejoin="round"/><path d="M294 641Q305 639.5 317 638.8" stroke="#2a6449" stroke-width="2.8" fill="none" stroke-linecap="round" stroke-linejoin="round"/><path d="M294 641Q305 639.5 317 638.8" stroke="#b9efe6" stroke-width="1.5" fill="none" stroke-linecap="round" stroke-linejoin="round"/><path d="M275.8 676L272.8 695" stroke="#2a6449" stroke-width="4.6" fill="none" stroke-linecap="round" stroke-linejoin="round"/><path d="M275.8 676L272.8 695" stroke="#b9efe6" stroke-width="3.3" fill="none" stroke-linecap="round" stroke-linejoin="round"/><path d="M297.5 676L305 690" stroke="#2a6449" stroke-width="4.6" fill="none" stroke-linecap="round" stroke-linejoin="round"/><path d="M297.5 676L305 690" stroke="#b9efe6" stroke-width="3.3" fill="none" stroke-linecap="round" stroke-linejoin="round"/></g><path d="M262 621C268 617.5 276 616.8 283 617.5C290 618.5 294.5 623 297.5 628.5C302 636 308 645 311 654C313.5 662 311 671 305.5 675.5C299.5 679.5 288 680 276 677.5C266 674 259 666 256 657C253.5 649 253.5 640 254.8 634C256 628 258.5 624 262 621Z" fill="#aed09d" stroke="#2a6449" stroke-width="1.2"/><path d="M262 621.2C267 618.6 273 617.9 279 618.6C284 619.3 287.5 623 290 628.5C294.5 637 301 645 303.8 654C305.5 662 303 670 298.5 674.5C292 678.5 281 679 274 676.5C266.5 673.5 259.5 666.5 256.3 657.5C254 650 254 641 255 634.5C256 628.5 258.5 623.5 262 621.2Z" fill="#c4d5f2" stroke="#2a6449" stroke-width="2.6"/><path d="M262 621.2C267 618.6 273 617.9 279 618.6C284 619.3 287.5 623 290 628.5C294.5 637 301 645 303.8 654C305.5 662 303 670 298.5 674.5C292 678.5 281 679 274 676.5C266.5 673.5 259.5 666.5 256.3 657.5C254 650 254 641 255 634.5C256 628.5 258.5 623.5 262 621.2Z" fill="none" stroke="#b9efe6" stroke-width="0.9"/><ellipse cx="280" cy="650" rx="11" ry="12" fill="#d8e3f7"/><path d="M259 626.5C262.5 623.5 268.5 623.5 270.3 627.5C271.2 633 270.2 642 268 648C266 651.8 260.5 651.8 258.3 648C256.3 642 256.2 631 259 626.5Z" transform="translate(263.5 637.5) scale(1.0) translate(-263.5 -637.5)" fill="#7d96dc" stroke="#e2ecfb" stroke-width="0.7"/><path d="M275 625C278.5 623.2 283.5 625 285.5 629C287.3 632.5 288 636.5 286.3 638.8C283.5 640.5 280 638 278 635C275.5 631.5 273.5 627.5 275 625Z" transform="translate(281 631.5) scale(1.0) translate(-281 -631.5)" fill="#7d96dc" stroke="#e2ecfb" stroke-width="0.7"/><path d="M287.5 644C290 642.5 294 644.5 296.5 647.5C299 650.5 299.3 654.2 297.3 655.2C294.5 656 291 653.5 289 651C287 648.5 286 645.5 287.5 644Z" transform="translate(292.8 649.5) scale(1.0) translate(-292.8 -649.5)" fill="#7d96dc" stroke="#e2ecfb" stroke-width="0.7"/><path d="M262 655C264 652.5 270 652.5 272.8 655C274.2 657.5 273.6 662 271.5 663.8C268.5 665 264 664.5 262 662.5C260.6 660.5 260.6 657 262 655Z" transform="translate(267.3 658.5) scale(1.0) translate(-267.3 -658.5)" fill="#7d96dc" stroke="#e2ecfb" stroke-width="0.7"/><path d="M278.6 671C279.2 667.5 282.5 666.5 284.8 665L285.2 662C286.8 661 289 661.8 289.8 664C293.5 663 298 662 300.2 663.6C301 666.5 297.5 669.5 292.5 671.2C287.5 673 280.5 674 278.6 671Z" transform="translate(289 668) scale(1.0) translate(-289 -668)" fill="#7d96dc" stroke="#e2ecfb" stroke-width="0.7"/><path d="M272 619L272.6 636L270 639M272.6 636L275.5 639" stroke="#2a6449" stroke-width="2.3" fill="none" stroke-linecap="round" stroke-linejoin="round"/><path d="M272 619L272.6 636L270 639M272.6 636L275.5 639" stroke="#b9efe6" stroke-width="0.9" fill="none" stroke-linecap="round" stroke-linejoin="round"/><path d="M255 651L266 651.5" stroke="#2a6449" stroke-width="2.3" fill="none" stroke-linecap="round" stroke-linejoin="round"/><path d="M255 651L266 651.5" stroke="#b9efe6" stroke-width="0.9" fill="none" stroke-linecap="round" stroke-linejoin="round"/><path d="M301 643L291.5 641" stroke="#2a6449" stroke-width="2.3" fill="none" stroke-linecap="round" stroke-linejoin="round"/><path d="M301 643L291.5 641" stroke="#b9efe6" stroke-width="0.9" fill="none" stroke-linecap="round" stroke-linejoin="round"/><path d="M274 676L275.8 663L273.8 660.5M275.8 663L278.5 661" stroke="#2a6449" stroke-width="2.3" fill="none" stroke-linecap="round" stroke-linejoin="round"/><path d="M274 676L275.8 663L273.8 660.5M275.8 663L278.5 661" stroke="#b9efe6" stroke-width="0.9" fill="none" stroke-linecap="round" stroke-linejoin="round"/><path d="M298.5 667L293 659.5L290.5 658.5" stroke="#2a6449" stroke-width="2.3" fill="none" stroke-linecap="round" stroke-linejoin="round"/><path d="M298.5 667L293 659.5L290.5 658.5" stroke="#b9efe6" stroke-width="0.9" fill="none" stroke-linecap="round" stroke-linejoin="round"/></g>
<g transform="translate(199.5 0)"><g mask="url(#lnvm)"><path d="M257 630Q247 632 239 639Q232 645 224 647" stroke="#2a6449" stroke-width="5.0" fill="none" stroke-linecap="round" stroke-linejoin="round"/><path d="M257 630Q247 632 239 639Q232 645 224 647" stroke="#b9efe6" stroke-width="3.7" fill="none" stroke-linecap="round" stroke-linejoin="round"/><path d="M255 647.5Q245 648.5 236 647.5L227 646.5" stroke="#2a6449" stroke-width="3.8" fill="none" stroke-linecap="round" stroke-linejoin="round"/><path d="M255 647.5Q245 648.5 236 647.5L227 646.5" stroke="#b9efe6" stroke-width="2.5" fill="none" stroke-linecap="round" stroke-linejoin="round"/><path d="M259 665L246.5 673" stroke="#2a6449" stroke-width="4.2" fill="none" stroke-linecap="round" stroke-linejoin="round"/><path d="M259 665L246.5 673" stroke="#b9efe6" stroke-width="2.9" fill="none" stroke-linecap="round" stroke-linejoin="round"/><path d="M292 642Q303 637 316.5 634.8" stroke="#2a6449" stroke-width="3.2" fill="none" stroke-linecap="round" stroke-linejoin="round"/><path d="M292 642Q303 637 316.5 634.8" stroke="#b9efe6" stroke-width="1.9" fill="none" stroke-linecap="round" stroke-linejoin="round"/><path d="M294 641Q305 639.5 317 638.8" stroke="#2a6449" stroke-width="2.8" fill="none" stroke-linecap="round" stroke-linejoin="round"/><path d="M294 641Q305 639.5 317 638.8" stroke="#b9efe6" stroke-width="1.5" fill="none" stroke-linecap="round" stroke-linejoin="round"/><path d="M275.8 676L272.8 695" stroke="#2a6449" stroke-width="4.6" fill="none" stroke-linecap="round" stroke-linejoin="round"/><path d="M275.8 676L272.8 695" stroke="#b9efe6" stroke-width="3.3" fill="none" stroke-linecap="round" stroke-linejoin="round"/><path d="M297.5 676L305 690" stroke="#2a6449" stroke-width="4.6" fill="none" stroke-linecap="round" stroke-linejoin="round"/><path d="M297.5 676L305 690" stroke="#b9efe6" stroke-width="3.3" fill="none" stroke-linecap="round" stroke-linejoin="round"/></g><path d="M262 621C268 617.5 276 616.8 283 617.5C290 618.5 294.5 623 297.5 628.5C302 636 308 645 311 654C313.5 662 311 671 305.5 675.5C299.5 679.5 288 680 276 677.5C266 674 259 666 256 657C253.5 649 253.5 640 254.8 634C256 628 258.5 624 262 621Z" fill="#aed09d" stroke="#2a6449" stroke-width="1.2"/><path d="M262 621.2C267 618.6 273 617.9 279 618.6C284 619.3 287.5 623 290 628.5C294.5 637 301 645 303.8 654C305.5 662 303 670 298.5 674.5C292 678.5 281 679 274 676.5C266.5 673.5 259.5 666.5 256.3 657.5C254 650 254 641 255 634.5C256 628.5 258.5 623.5 262 621.2Z" fill="#c4d5f2" stroke="#2a6449" stroke-width="2.6"/><path d="M262 621.2C267 618.6 273 617.9 279 618.6C284 619.3 287.5 623 290 628.5C294.5 637 301 645 303.8 654C305.5 662 303 670 298.5 674.5C292 678.5 281 679 274 676.5C266.5 673.5 259.5 666.5 256.3 657.5C254 650 254 641 255 634.5C256 628.5 258.5 623.5 262 621.2Z" fill="none" stroke="#b9efe6" stroke-width="0.9"/><ellipse cx="280" cy="650" rx="11" ry="12" fill="#d8e3f7"/><path d="M259 626.5C262.5 623.5 268.5 623.5 270.3 627.5C271.2 633 270.2 642 268 648C266 651.8 260.5 651.8 258.3 648C256.3 642 256.2 631 259 626.5Z" transform="translate(263.5 637.5) scale(1.0) translate(-263.5 -637.5)" fill="#7d96dc" stroke="#e2ecfb" stroke-width="0.7"/><path d="M275 625C278.5 623.2 283.5 625 285.5 629C287.3 632.5 288 636.5 286.3 638.8C283.5 640.5 280 638 278 635C275.5 631.5 273.5 627.5 275 625Z" transform="translate(281 631.5) scale(1.0) translate(-281 -631.5)" fill="#7d96dc" stroke="#e2ecfb" stroke-width="0.7"/><path d="M287.5 644C290 642.5 294 644.5 296.5 647.5C299 650.5 299.3 654.2 297.3 655.2C294.5 656 291 653.5 289 651C287 648.5 286 645.5 287.5 644Z" transform="translate(292.8 649.5) scale(1.0) translate(-292.8 -649.5)" fill="#7d96dc" stroke="#e2ecfb" stroke-width="0.7"/><path d="M262 655C264 652.5 270 652.5 272.8 655C274.2 657.5 273.6 662 271.5 663.8C268.5 665 264 664.5 262 662.5C260.6 660.5 260.6 657 262 655Z" transform="translate(267.3 658.5) scale(1.0) translate(-267.3 -658.5)" fill="#7d96dc" stroke="#e2ecfb" stroke-width="0.7"/><path d="M278.6 671C279.2 667.5 282.5 666.5 284.8 665L285.2 662C286.8 661 289 661.8 289.8 664C293.5 663 298 662 300.2 663.6C301 666.5 297.5 669.5 292.5 671.2C287.5 673 280.5 674 278.6 671Z" transform="translate(289 668) scale(1.0) translate(-289 -668)" fill="#7d96dc" stroke="#e2ecfb" stroke-width="0.7"/><path d="M272 619L272.6 636L270 639M272.6 636L275.5 639" stroke="#2a6449" stroke-width="2.3" fill="none" stroke-linecap="round" stroke-linejoin="round"/><path d="M272 619L272.6 636L270 639M272.6 636L275.5 639" stroke="#b9efe6" stroke-width="0.9" fill="none" stroke-linecap="round" stroke-linejoin="round"/><path d="M255 651L266 651.5" stroke="#2a6449" stroke-width="2.3" fill="none" stroke-linecap="round" stroke-linejoin="round"/><path d="M255 651L266 651.5" stroke="#b9efe6" stroke-width="0.9" fill="none" stroke-linecap="round" stroke-linejoin="round"/><path d="M301 643L291.5 641" stroke="#2a6449" stroke-width="2.3" fill="none" stroke-linecap="round" stroke-linejoin="round"/><path d="M301 643L291.5 641" stroke="#b9efe6" stroke-width="0.9" fill="none" stroke-linecap="round" stroke-linejoin="round"/><path d="M274 676L275.8 663L273.8 660.5M275.8 663L278.5 661" stroke="#2a6449" stroke-width="2.3" fill="none" stroke-linecap="round" stroke-linejoin="round"/><path d="M274 676L275.8 663L273.8 660.5M275.8 663L278.5 661" stroke="#b9efe6" stroke-width="0.9" fill="none" stroke-linecap="round" stroke-linejoin="round"/><path d="M298.5 667L293 659.5L290.5 658.5" stroke="#2a6449" stroke-width="2.3" fill="none" stroke-linecap="round" stroke-linejoin="round"/><path d="M298.5 667L293 659.5L290.5 658.5" stroke="#b9efe6" stroke-width="0.9" fill="none" stroke-linecap="round" stroke-linejoin="round"/></g>
<circle cx="356.6" cy="736.8" r="10.3" fill="url(#cello)" stroke="#15233a" stroke-width="1.2"/>
<circle cx="356.6" cy="736.8" r="6.8" fill="url(#cellg)"/>
<circle cx="381.2" cy="745.6" r="10.3" fill="url(#cello)" stroke="#15233a" stroke-width="1.2"/>
<circle cx="381.2" cy="745.6" r="6.8" fill="url(#cellg)"/>
<circle cx="342.7" cy="761.2" r="10.3" fill="url(#cello)" stroke="#15233a" stroke-width="1.2"/>
<circle cx="342.7" cy="761.2" r="6.8" fill="url(#cellg)"/>
<circle cx="396" cy="762.1" r="10.3" fill="url(#cello)" stroke="#15233a" stroke-width="1.2"/>
<circle cx="396" cy="762.1" r="6.8" fill="url(#cellg)"/>
<circle cx="362.3" cy="765.8" r="10.3" fill="url(#cello)" stroke="#15233a" stroke-width="1.2"/>
<circle cx="362.3" cy="765.8" r="6.8" fill="url(#cellg)"/>
<circle cx="356.9" cy="784.6" r="10.3" fill="url(#cello)" stroke="#15233a" stroke-width="1.2"/>
<circle cx="356.9" cy="784.6" r="6.8" fill="url(#cellg)"/>
<circle cx="379.6" cy="787.5" r="10.3" fill="url(#cello)" stroke="#15233a" stroke-width="1.2"/>
<circle cx="379.6" cy="787.5" r="6.8" fill="url(#cellg)"/>
<path d="M127.4 766.5V773.3M139.4 766.5V773.3" stroke="#333" stroke-width="0.8"/>
<rect x="124.3" y="773.1" width="18.5" height="2.3" fill="#8a8a8a" stroke="#1a1a1a" stroke-width="0.7"/>
<rect x="127" y="775.4" width="12.8" height="20.4" fill="url(#barrel)" stroke="#1a1a1a" stroke-width="0.8"/>
<rect x="126.6" y="795.6" width="13.8" height="2" fill="#222"/>
<rect x="127.6" y="797.6" width="11.8" height="2.7" fill="#b8b8b8" stroke="#222" stroke-width="0.6"/>
<rect x="129.2" y="800.3" width="8.2" height="1.9" fill="#2a2a2a"/>
<rect x="131.4" y="802.2" width="4.9" height="21.4" fill="#4a4a4a" stroke="#1a1a1a" stroke-width="0.6"/>
<rect x="133.2" y="803" width="1.2" height="19.6" fill="#8c8c8c"/>
<path d="M132.3 823.4V836.4A1.3 1.3 0 0 0 134.9 836.4V823.4Z" fill="#f4f4f4" stroke="#222" stroke-width="0.65"/>
</svg></body></html>
